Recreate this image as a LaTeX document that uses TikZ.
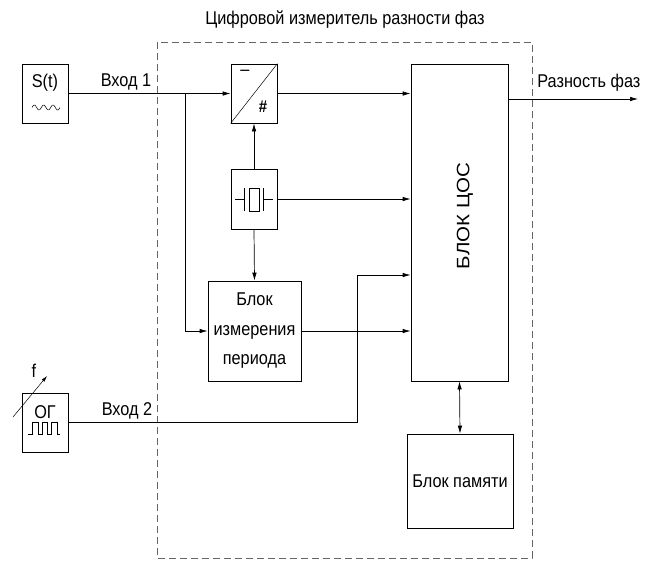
\documentclass[tikz,border=0pt]{standalone}
\usepackage{fontspec}
\setmainfont{Liberation Sans}[FakeStretch=0.88]
\newfontfamily\wide{Liberation Sans}[FakeStretch=1.14]
\usetikzlibrary{arrows.meta}
\begin{document}
\begin{tikzpicture}[x=1pt,y=-1pt,>={Latex[length=8pt,width=4.5pt]},line width=0.7pt,
  blk/.style args={#1x#2}{draw,minimum width=#1pt,minimum height=#2pt,inner sep=0pt},
  lbl/.style={inner sep=0pt,font=\fontsize{18.5}{22}\selectfont},
  thin/.style={line width=0.5pt}]
\useasboundingbox (0,0) rectangle (661,573);
\draw[dashed,line width=0.6pt,dash pattern=on 7pt off 4pt,gray!80!black](157,42) rectangle (532,558);
\node[lbl] (title) at (345,20) {Цифровой измеритель разности фаз};
\node[blk={46x59}] (sig) at (45,93.5) {};
\node[lbl] (siglbl) at (45,83) {S(t)};
\draw[thin,domain=32:60,samples=50] plot (\x,{107.5-2.5*sin(360*(\x-32)/9.33)});
\node[blk={46x59}] (gen) at (45,422.5) {};
\node[lbl] (genlbl) at (45,412) {ОГ};
\draw[thin](28,434)--(32,434)--(32,422)--(38,422)--(38,434)--(42,434)--(42,422)--(47,422)
  --(47,434)--(51,434)--(51,422)--(57,422)--(57,434)--(60,434);
\coordinate (fa) at (13,417);
\coordinate (fb) at (47,376);
\draw[thin,->,>={Latex[length=6pt,width=3.5pt]}](fa)--(fb);
\node[lbl] (flbl) at (34,371) {f};
\node[blk={46x59}] (adc) at (254,93.5) {};
\draw[thin](adc.south west)--(adc.north east);
\node[lbl] (adcm) at (245,73) {–};
\node[lbl,font=\bfseries\fontsize{17}{20}\selectfont] (adch) at (263,107) {\#};
\node[blk={46x60}] (osc) at (254,199) {};
\draw[thin](235,199)--(244,199) (244,188)--(244,211) (263,199)--(273,199) (263,188)--(263,211);
\draw[thin](249,188) rectangle (259,211);
\node[blk={93x100},align=center,font=\fontsize{18.5}{29.5}\selectfont] (per) at (254.5,331) {Блок\\измерения\\периода};
\node[blk={97x317}] (dsp) at (459.5,222.5) {};
\node[lbl,rotate=90,font=\wide\fontsize{18}{20}\selectfont] (dsplbl) at (465,216) {БЛОК ЦОС};
\node[blk={106x94},lbl] (mem) at (460,481) {Блок памяти};
\coordinate (br) at (185,93.5);
\coordinate (kink) at (357,275);
\coordinate (out) at (638,99);
\draw[->](sig.east)--(adc.west);
\node[lbl] (in1) at (126,82) {Вход 1};
\draw[->](br)|-(per.west);
\draw[->](adc.east)--(adc.east-|dsp.west);
\draw[->](osc.north)--(adc.south);
\draw[->](osc.east)--(osc.east-|dsp.west);
\draw[->](osc.south)--(per.north);
\draw[->](per.east)--(per.east-|dsp.west);
\draw[->](gen.east)-|(kink)--(kink-|dsp.west);
\node[lbl] (in2) at (127,411) {Вход 2};
\draw[->](dsp.east|-out)--(out);
\node[lbl,anchor=west] (res) at (537,83) {Разность фаз};
\draw[<->](dsp.south)--(mem.north);
\end{tikzpicture}
\end{document}
